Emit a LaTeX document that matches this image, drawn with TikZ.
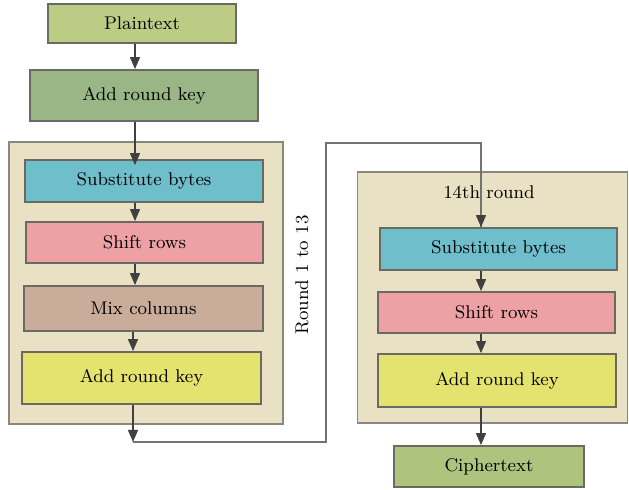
\documentclass[tikz,border=0pt]{standalone}
\usepackage{tikz}
\usetikzlibrary{arrows.meta, positioning, calc}
\definecolor{cPlain}{HTML}{BDCC84}
\definecolor{cKey}{HTML}{9AB686}
\definecolor{cFrame}{HTML}{E9E1C3}
\definecolor{cSub}{HTML}{6EBFCB}
\definecolor{cShift}{HTML}{EEA1A5}
\definecolor{cMix}{HTML}{C9AC99}
\definecolor{cAdd}{HTML}{E4E370}
\definecolor{cCipher}{HTML}{AEC37D}
\definecolor{cEdge}{HTML}{6A6A62}

\begin{document}
\begin{tikzpicture}[x=0.5pt,y=-0.5pt,
        font=\fontsize{9.2}{11}\selectfont,
        box/.style={draw=cEdge, line width=0.9pt, inner sep=0pt},
        frame/.style={draw=cEdge!80, line width=0.9pt, fill=cFrame, inner sep=0pt},
        arr/.style={-{Triangle[length=6pt,width=5pt]}, draw=black!75, line width=0.6pt},
        link/.style={draw=black!55, line width=0.6pt}]

        \useasboundingbox (0,0) rectangle (629,490);

        % Khung các vòng lặp
        \node[frame, minimum width=137pt, minimum height=141pt] (loop) at (146,283) {}; % Vòng 1 đến 13
        \node[frame, minimum width=135pt, minimum height=125.5pt] (last) at (492.5,297.5) {}; % Vòng 14

        % Các khối bên trái
        \node[box, fill=cPlain, minimum width=94pt, minimum height=19.5pt] (plain) at (142,23.5) {Plaintext};
        \node[box, fill=cKey, minimum width=114pt, minimum height=25.5pt] (key0) at (144,95.5) {Add round key};
        \node[box, fill=cSub, minimum width=119pt, minimum height=21pt] (subL) at (144,181) {Substitute bytes};
        \node[box, fill=cShift, minimum width=118.5pt, minimum height=20.5pt] (shiftL) at (144.5,242.5) {Shift rows};
        \node[box, fill=cMix, minimum width=119.5pt, minimum height=22.5pt] (mixL) at (143.5,308.5) {Mix columns};
        \node[box, fill=cAdd, minimum width=119.5pt, minimum height=26pt] (keyL) at (141.5,378) {Add round key};

        % Các khối bên phải
        \node (title) at (489,192) {14th round};
        \node[box, fill=cSub, minimum width=118.5pt, minimum height=21pt] (subR) at (498.5,249) {Substitute bytes};
        \node[box, fill=cShift, minimum width=118.5pt, minimum height=20.5pt] (shiftR) at (496.5,312.5) {Shift rows};
        \node[box, fill=cAdd, minimum width=119pt, minimum height=26.5pt] (keyR) at (497,380.5) {Add round key};
        \node[box, fill=cCipher, minimum width=95pt, minimum height=20.5pt] (cipher) at (489,466.5) {Ciphertext};

        \node[rotate=90] (rounds) at (302,275) {Round 1 to 13};

        % Cột của các mũi tên
        \coordinate (colL) at (135,0);
        \coordinate (colR) at (481,0);
        \coordinate (turn) at (133,442);
        \coordinate (up) at (326,143);

        % Mũi tên bên trái
        \draw[arr] (plain.south -| colL) -- (key0.north -| colL);
        \draw[arr] (key0.south -| colL) -- ([yshift=-3pt]subL.north -| colL);
        \draw[arr] (subL.south -| colL) -- (shiftL.north -| colL);
        \draw[arr] (shiftL.south -| colL) -- (mixL.north -| colL);
        \draw[arr] (mixL.south -| turn) -- (keyL.north -| turn);
        \draw[arr] (keyL.south -| turn) -- (turn);

        % Đường nối sang vòng 14
        \draw[link] (turn) -| (up) -| (subR.north -| colR);
        \draw[arr] (up -| colR) ++(0,80) -- (subR.north -| colR);

        % Mũi tên bên phải
        \draw[arr] (subR.south -| colR) -- (shiftR.north -| colR);
        \draw[arr] (shiftR.south -| colR) -- (keyR.north -| colR);
        \draw[arr] (keyR.south -| colR) -- (cipher.north -| colR);

\end{tikzpicture}
\end{document}
